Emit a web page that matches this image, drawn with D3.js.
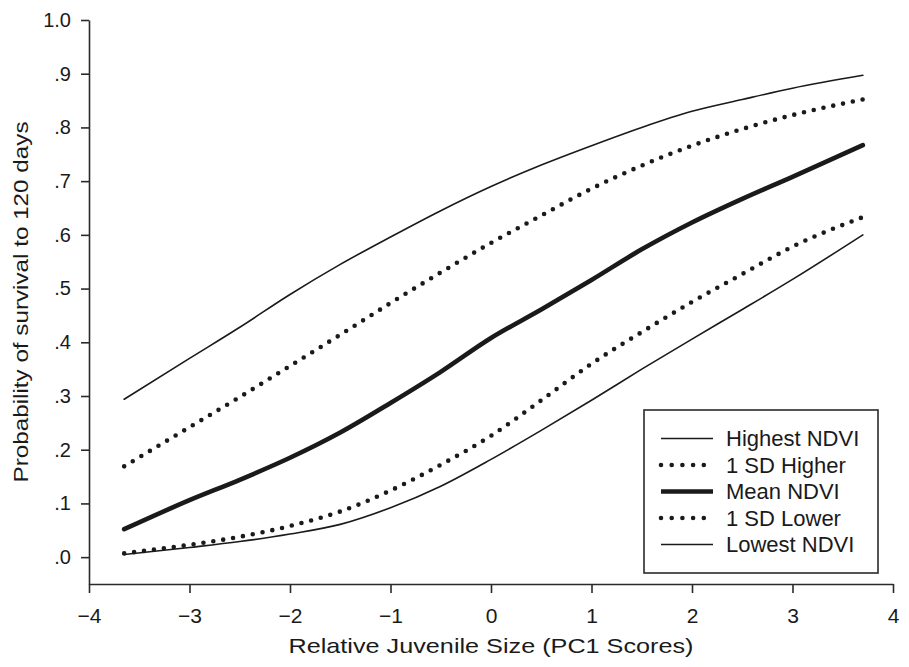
<!DOCTYPE html>
<html>
<head>
<meta charset="utf-8">
<script src="https://cdn.jsdelivr.net/npm/d3@7"></script>
<style>
    body { margin: 0; background: #fff; }
    #chart { width: 909px; height: 667px; }
    text { font-family: "Liberation Sans", Arial, sans-serif; fill: #1a1a1a; }
</style>
</head>
<body>
<div id="chart"></div>
<script>
// relative juvenile size (PC1 scores)
var sizes = [-3.65, -3, -2.5, -2, -1.5, -1, -0.5, 0, 0.5, 1, 1.5, 2, 2.5, 3, 3.7];
// probability of survival to 120 days, one array per NDVI level
var highestNDVI = [0.294, 0.370, 0.428, 0.489, 0.545, 0.596, 0.645, 0.690, 0.730, 0.766, 0.800, 0.830, 0.852, 0.873, 0.897];
var sdHigher    = [0.169, 0.242, 0.298, 0.356, 0.414, 0.473, 0.530, 0.585, 0.636, 0.686, 0.729, 0.766, 0.797, 0.823, 0.852];
var meanNDVI    = [0.052, 0.106, 0.144, 0.185, 0.232, 0.287, 0.345, 0.408, 0.461, 0.516, 0.573, 0.623, 0.667, 0.708, 0.767];
var sdLower     = [0.007, 0.023, 0.038, 0.058, 0.085, 0.124, 0.172, 0.226, 0.292, 0.360, 0.419, 0.475, 0.527, 0.578, 0.633];
var lowestNDVI  = [0.005, 0.018, 0.029, 0.043, 0.061, 0.092, 0.132, 0.182, 0.236, 0.292, 0.350, 0.406, 0.461, 0.517, 0.600];

var seriesNames = ['Highest NDVI', '1 SD Higher', 'Mean NDVI', '1 SD Lower', 'Lowest NDVI'];
var xTicks = [-4, -3, -2, -1, 0, 1, 2, 3, 4];
var yTicks = [0, 0.1, 0.2, 0.3, 0.4, 0.5, 0.6, 0.7, 0.8, 0.9, 1.0];
var xTitle = 'Relative Juvenile Size (PC1 Scores)';
var yTitle = 'Probability of survival to 120 days';

var ink = '#1a1a1a';
var styles = {
    'Highest NDVI': { width: 1.6, dash: null },
    '1 SD Higher': { width: 4.6, dash: '0 10' },
    'Mean NDVI': { width: 4.6, dash: null },
    '1 SD Lower': { width: 4.6, dash: '0 10' },
    'Lowest NDVI': { width: 1.6, dash: null }
};

var series = [highestNDVI, sdHigher, meanNDVI, sdLower, lowestNDVI].map(function (vals, i) {
    return {
        name: seriesNames[i],
        values: sizes.map(function (s, j) { return { x: s, y: vals[j] }; })
    };
});

var svg = d3.select('#chart')
    .append('svg')
    .attr('width', 909)
    .attr('height', 667);

var xScale = d3.scaleLinear().domain([-4, 4]).range([89, 893]);
var yScale = d3.scaleLinear().domain([-0.05, 1.0]).range([584, 20]);

// axes
var yAxis = svg.append('g')
    .attr('transform', 'translate(89,0)')
    .call(d3.axisLeft(yScale)
        .tickValues(yTicks)
        .tickSize(8)
        .tickSizeOuter(0)
        .tickPadding(10)
        .tickFormat(function (d) {
            return d == 1 ? '1.0' : d3.format('.1f')(d).replace(/^0/, '');
        }));
yAxis.selectAll('text').style('font-size', '20px');

var xAxis = svg.append('g')
    .attr('transform', 'translate(0,584)')
    .call(d3.axisBottom(xScale)
        .tickValues(xTicks)
        .tickSize(9)
        .tickSizeOuter(0)
        .tickPadding(15)
        .tickFormat(d3.format('d')));
xAxis.selectAll('text').style('font-size', '21px');

svg.selectAll('.domain, .tick line')
    .attr('stroke', '#2a2a2a')
    .attr('stroke-width', 1.6);

// axis titles
svg.append('text')
    .attr('x', xScale(0))
    .attr('y', 653)
    .attr('text-anchor', 'middle')
    .attr('textLength', 405)
    .attr('lengthAdjust', 'spacingAndGlyphs')
    .style('font-size', '21px')
    .text(xTitle);

svg.append('text')
    .attr('transform', 'translate(28,302) rotate(-90)')
    .attr('text-anchor', 'middle')
    .attr('textLength', 361)
    .attr('lengthAdjust', 'spacingAndGlyphs')
    .style('font-size', '21px')
    .text(yTitle);

// curves
var line = d3.line()
    .x(function (d) { return xScale(d.x); })
    .y(function (d) { return yScale(d.y); })
    .curve(d3.curveMonotoneX);

svg.append('g')
    .selectAll('path')
    .data(series)
    .enter()
    .append('path')
    .attr('d', function (d) { return line(d.values); })
    .attr('fill', 'none')
    .attr('stroke', ink)
    .attr('stroke-width', function (d) { return styles[d.name].width; })
    .attr('stroke-dasharray', function (d) { return styles[d.name].dash; })
    .attr('stroke-linecap', 'round')
    .attr('stroke-linejoin', 'round');

// legend
var legend = svg.append('g').attr('transform', 'translate(644,410)');
legend.append('rect')
    .attr('width', 234)
    .attr('height', 163)
    .attr('fill', '#fff')
    .attr('stroke', '#2a2a2a')
    .attr('stroke-width', 1.6);

var rows = legend.selectAll('.row')
    .data(seriesNames)
    .enter()
    .append('g')
    .attr('class', 'row')
    .attr('transform', function (d, i) { return 'translate(0,' + (28.5 + i * 26.5) + ')'; });

rows.append('line')
    .attr('x1', 17)
    .attr('x2', function (d) { return styles[d].dash ? 60 : 69; })
    .attr('stroke', ink)
    .attr('stroke-width', function (d) { return styles[d].width; })
    .attr('stroke-dasharray', function (d) { return styles[d].dash ? '0 10.7' : null; })
    .attr('stroke-linecap', function (d) { return styles[d].dash ? 'round' : 'butt'; });

rows.append('text')
    .attr('x', 82)
    .attr('dy', '0.36em')
    .style('font-size', '22px')
    .text(function (d) { return d; });
</script>
</body>
</html>
